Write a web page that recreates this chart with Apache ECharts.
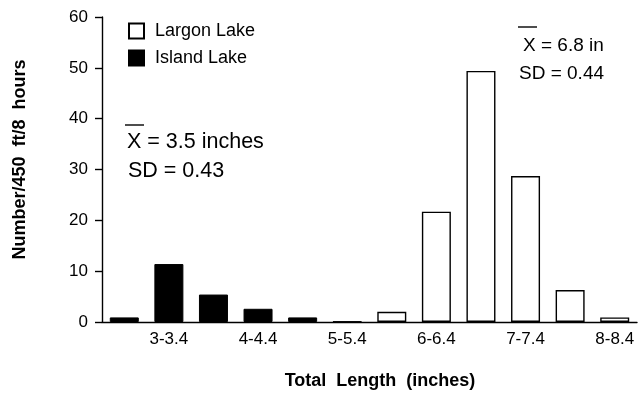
<!DOCTYPE html>
<html>
<head>
<meta charset="utf-8">
<script src="https://cdn.jsdelivr.net/npm/echarts@6/dist/echarts.min.js"></script>
<style>
  html, body { margin: 0; padding: 0; background: #fff; }
  #chart { width: 640px; height: 396px; }
</style>
</head>
<body>
<div id="chart"></div>
<script>
// length classes (inches)
const categories = ['2.5-2.9', '3-3.4', '3.5-3.9', '4-4.4', '4.5-4.9', '5-5.4',
                    '5.5-5.9', '6-6.4', '6.5-6.9', '7-7.4', '7.5-7.9', '8-8.4'];
// catch per 450 ft / 8 hours
const largonLake = [null, null, null, null, null, null, 2.0, 21.7, 49.4, 28.7, 6.3, 0.9];
const islandLake = [0.9, 11.4, 5.4, 2.6, 0.9, 0.1, null, null, null, null, null, null];
const yTicks = [0, 10, 20, 30, 40, 50, 60];

const font = 'Liberation Sans, Arial, sans-serif';

var chart = echarts.init(document.getElementById('chart'));

var option = {
    backgroundColor: '#fff',
    animation: false,
    textStyle: { fontFamily: font, color: '#000' },
    grid: { left: 102, right: 3, top: 17, bottom: 74 },
    legend: {
        orient: 'vertical',
        left: 128,
        top: 22,
        padding: 0,
        itemWidth: 15,
        itemHeight: 15,
        itemGap: 9,
        icon: 'rect',
        textStyle: { fontSize: 18, color: '#000', fontFamily: font, padding: [0, 0, 0, 6] },
        data: ['Largon Lake', 'Island Lake']
    },
    xAxis: {
        type: 'category',
        data: categories,
        name: 'Total  Length  (inches)',
        nameLocation: 'middle',
        nameGap: 50,
        nameTextStyle: { fontSize: 18, fontWeight: 'bold', color: '#000', padding: [0, 0, 0, 21] },
        axisLine: { lineStyle: { color: '#000', width: 1.4 } },
        axisTick: { alignWithLabel: true, interval: 0, length: 8, lineStyle: { color: '#000', width: 1.4 } },
        axisLabel: {
            interval: function (i) { return i % 2 === 1; },
            fontSize: 17,
            color: '#000',
            margin: 9
        }
    },
    yAxis: {
        type: 'value',
        min: yTicks[0],
        max: yTicks[yTicks.length - 1],
        interval: 10,
        name: 'Number/450  ft/8  hours',
        nameLocation: 'middle',
        nameGap: 73,
        nameRotate: 90,
        nameTextStyle: { fontSize: 18, fontWeight: 'bold', color: '#000', padding: [0, 0, 0, 20] },
        axisLine: { show: true, lineStyle: { color: '#000', width: 1.4 } },
        axisTick: { show: true, length: 7, lineStyle: { color: '#000', width: 1.4 } },
        axisLabel: { fontSize: 17, color: '#000', margin: 14 },
        splitLine: { show: false }
    },
    series: [
        {
            name: 'Largon Lake',
            type: 'bar',
            data: largonLake,
            barWidth: 29,
            barGap: '-100%',
            itemStyle: { color: '#fff', borderColor: '#000', borderWidth: 1.4 }
        },
        {
            name: 'Island Lake',
            type: 'bar',
            data: islandLake,
            barWidth: 29,
            barGap: '-100%',
            itemStyle: { color: '#000', borderColor: '#000', borderWidth: 1 }
        }
    ],
    graphic: [
        // mean / SD notes, Island Lake
        { type: 'line', shape: { x1: 125, y1: 125, x2: 144, y2: 125 }, style: { stroke: '#000', lineWidth: 1.4 } },
        { type: 'text', left: 127, top: 131, style: { text: 'X = 3.5 inches', font: '21.5px ' + font, fill: '#000' } },
        { type: 'text', left: 128, top: 160, style: { text: 'SD = 0.43', font: '21.5px ' + font, fill: '#000' } },
        // mean / SD notes, Largon Lake
        { type: 'line', shape: { x1: 518, y1: 27, x2: 537, y2: 27 }, style: { stroke: '#000', lineWidth: 1.4 } },
        { type: 'text', left: 523, top: 36, style: { text: 'X = 6.8 in', font: '19px ' + font, fill: '#000' } },
        { type: 'text', left: 519, top: 64, style: { text: 'SD = 0.44', font: '19px ' + font, fill: '#000' } }
    ]
};

option && chart.setOption(option);
</script>
</body>
</html>
